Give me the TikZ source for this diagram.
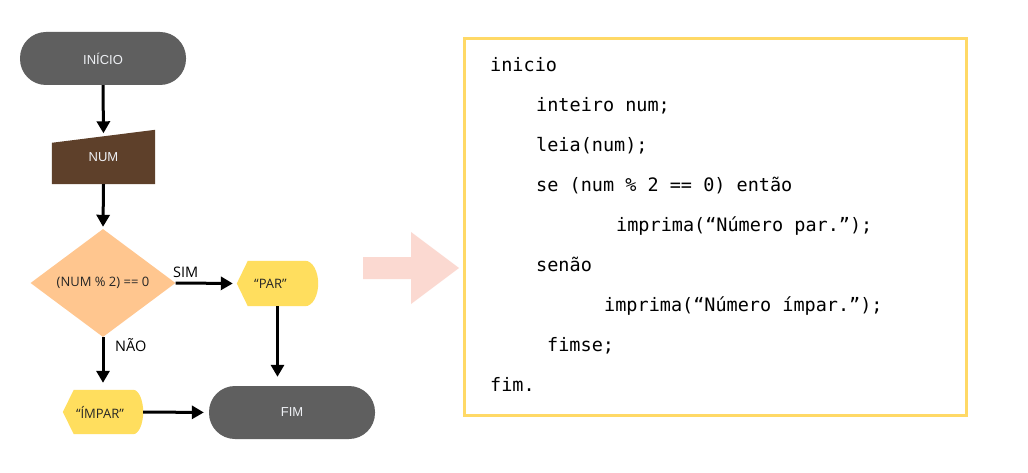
\documentclass[tikz,border=0pt]{standalone}
\usepackage{fontspec}
\setmainfont{Liberation Sans}
\newfontfamily\osans{Open Sans}
\newfontfamily\codefont{DejaVu Sans Mono}
\usetikzlibrary{shapes.geometric,arrows.meta,calc}
\definecolor{termgray}{HTML}{5F5F5F}
\definecolor{inbrown}{HTML}{5E402A}
\definecolor{decpeach}{HTML}{FFC68F}
\definecolor{dispyellow}{HTML}{FFDE5E}
\definecolor{boxyellow}{HTML}{FFD966}
\definecolor{arrpink}{HTML}{FBD9D1}
\definecolor{lighttext}{HTML}{EEF0F4}
\definecolor{darktext}{HTML}{262626}
\tikzset{
  terminal/.style={rectangle, rounded corners=26pt, fill=termgray, minimum width=166pt, minimum height=53pt, inner sep=0pt, text=lighttext, font=\fontsize{13}{15}\selectfont},
  invisbox/.style={rectangle, inner sep=0pt},
  flowarrow/.style={line width=3pt, -{Triangle[length=12pt,width=13pt]}},
  arrlabel/.style={anchor=west, inner sep=0pt, text=black, font=\osans\fontsize{14.5}{16}\selectfont},
  codeline/.style={anchor=base west, inner sep=0pt, font=\codefont\fontsize{18.5}{20}\selectfont}
}
\begin{document}
\begin{tikzpicture}[x=1pt,y=-1pt]
\useasboundingbox (0,0) rectangle (1028,473);
\fill[white] (0,0) rectangle (1028,473);

% terminals
\node[terminal] (inicio) at (103,58.5) {INÍCIO};
\node[terminal] (fim) at (292,412.5) {FIM};

% manual input
\node[invisbox, minimum width=103pt, minimum height=54pt] (num) at (103.5,157) {};
\fill[inbrown] (num.south west) -- (num.south east) -- (num.north east) -- ($(num.north west)+(0,13)$) -- cycle;
\node[text=lighttext, font=\fontsize{13}{15}\selectfont] (numtxt) at (num.center) {NUM};

% decision
\node[diamond, fill=decpeach, minimum width=145pt, minimum height=108pt, inner sep=0pt, text=darktext, font=\osans\fontsize{13}{15}\selectfont] (dec) at (103,283) {(NUM \% 2) == 0};

% display PAR
\node[invisbox, minimum width=81pt, minimum height=45pt] (par) at (277.5,283.5) {};
\fill[dispyellow] (par.west) -- ($(par.north west)+(11,0)$) -- ($(par.north east)+(-13,0)$)
  .. controls ($(par.north east)+(-5.8,0)$) and ($(par.east)+(0,-12.5)$) .. (par.east)
  .. controls ($(par.east)+(0,12.5)$) and ($(par.south east)+(-5.8,0)$) .. ($(par.south east)+(-13,0)$)
  -- ($(par.south west)+(11,0)$) -- cycle;
\node[text=darktext, font=\osans\fontsize{13}{15}\selectfont] (partxt) at ($(par.center)+(-7,0)$) {“PAR”};

% display IMPAR
\node[invisbox, minimum width=80pt, minimum height=44pt] (impar) at (103,412) {};
\fill[dispyellow] (impar.west) -- ($(impar.north west)+(11,0)$) -- ($(impar.north east)+(-10,0)$)
  .. controls ($(impar.north east)+(-4.5,0)$) and ($(impar.east)+(0,-12)$) .. (impar.east)
  .. controls ($(impar.east)+(0,12)$) and ($(impar.south east)+(-4.5,0)$) .. ($(impar.south east)+(-10,0)$)
  -- ($(impar.south west)+(11,0)$) -- cycle;
\node[text=darktext, font=\osans\fontsize{13}{15}\selectfont] (impartxt) at ($(impar.center)+(-3,0)$) {“ÍMPAR”};

% connectors
\draw[flowarrow, shorten >=3pt] (inicio.south) -- ($(num.north)+(0,6.5)$);
\draw[flowarrow, shorten >=2pt] (num.south) -- (dec.north);
\draw[flowarrow, shorten >=4pt] (dec.east) -- (par.west);
\draw[flowarrow, shorten >=7pt] (dec.south) -- (dec.south |- impar.north);
\draw[flowarrow, shorten >=9pt] (par.south) -- (par.south |- fim.north);
\draw[flowarrow, shorten >=5pt] (impar.east) -- (fim.west);

\node[arrlabel] (sim) at (173,272) {SIM};
\node[arrlabel] (nao) at (115,345) {NÃO};

% big pink arrow
\fill[arrpink] (363,257) -- (411,257) -- (411,232) -- (459,268) -- (411,304) -- (411,279) -- (363,279) -- cycle;

% code box
\node[rectangle, draw=boxyellow, line width=3.3pt, minimum width=501.6pt, minimum height=376.6pt, inner sep=0pt] (codebox) at (715.5,227) {};
\node[codeline] (c1) at (490,71.7) {inicio};
\node[codeline] (c2) at (536,111.7) {inteiro num;};
\node[codeline] (c3) at (536,151.7) {leia(num);};
\node[codeline] (c4) at (536,191.7) {se (num \% 2 == 0) então};
\node[codeline] (c5) at (616,231.7) {imprima(“Número par.”);};
\node[codeline] (c6) at (536,271.7) {senão};
\node[codeline] (c7) at (604,311.7) {imprima(“Número ímpar.”);};
\node[codeline] (c8) at (547,351.7) {fimse;};
\node[codeline] (c9) at (490,391.5) {fim.};
\end{tikzpicture}
\end{document}
